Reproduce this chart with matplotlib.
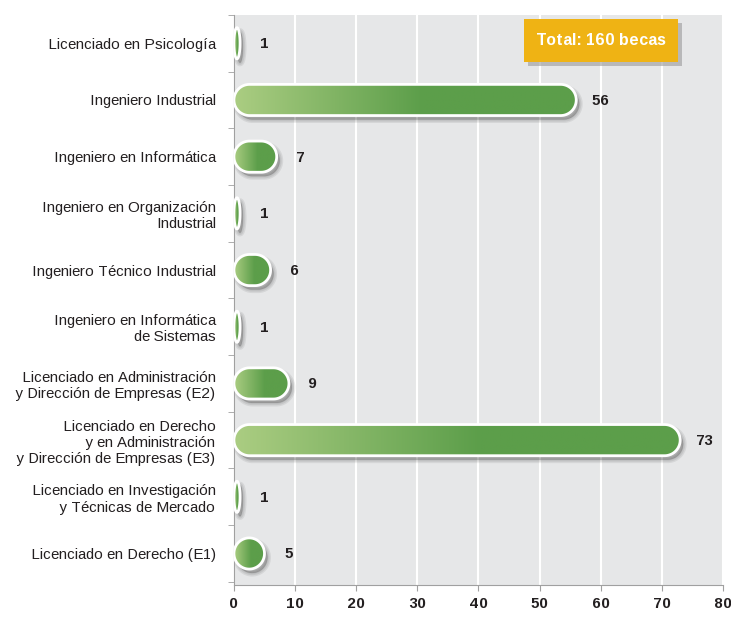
"""Becas por titulación - barras horizontales redondeadas con degradado"""

import numpy as np
import matplotlib.pyplot as plt
from matplotlib.patches import Polygon, Rectangle
from matplotlib.colors import LinearSegmentedColormap
import matplotlib.transforms as mtransforms

plt.rcParams['font.family'] = ['Liberation Sans', 'DejaVu Sans']
plt.rcParams['text.hinting_factor'] = 1

categories = ['Licenciado en Psicología', 'Ingeniero Industrial',
              'Ingeniero en Informática', 'Ingeniero en Organización\nIndustrial',
              'Ingeniero Técnico Industrial', 'Ingeniero en Informática\nde Sistemas',
              'Licenciado en Administración\ny Dirección de Empresas (E2)',
              'Licenciado en Derecho\ny en Administración\ny Dirección de Empresas (E3)',
              'Licenciado en Investigación\ny Técnicas de Mercado',
              'Licenciado en Derecho (E1)']
values = [1, 56, 7, 1, 6, 1, 9, 73, 1, 5]
x_ticks = [0, 10, 20, 30, 40, 50, 60, 70, 80]
total_text = 'Total: 160 becas'

TEXT = '#231f20'; BAR_H = 0.55
green = LinearSegmentedColormap.from_list('g', [(0, '#abcd82'), (0.55, '#5c9e4a'), (1, '#5c9e4a')])

fig = plt.figure(figsize=(7.31, 6.22), dpi=100)
ax = fig.add_axes([0.320, 0.060, 0.669, 0.916])
ax.set_xlim(0, 80); ax.set_ylim(len(values) - 0.45, -0.5)
ax.set_facecolor('#e6e7e8')
ax.grid(axis='x', color='white', lw=1.5); ax.set_axisbelow(True)

# pixel scale, so the bar ends are real half-circles
p0 = ax.transData.transform((0, 0)); p1 = ax.transData.transform((1, 1))
px_x, px_y = abs(p1[0] - p0[0]), abs(p1[1] - p0[1])
r_px = BAR_H * px_y / 2

def pill(x1, yc, h):
    rx = min(r_px / px_x, x1 / 2)
    t = np.linspace(-np.pi / 2, np.pi / 2, 40)
    right = np.column_stack([x1 - rx + rx * np.cos(t), yc + h / 2 * np.sin(t)])
    left = np.column_stack([rx - rx * np.cos(t), yc - h / 2 * np.sin(t)])
    return np.vstack([right, left])

shadow_tr = mtransforms.offset_copy(ax.transData, fig, x=3, y=-4, units='dots')
for i, v in enumerate(values):
    pts = pill(v, i, BAR_H)
    for lw in (5, 3, 1):
        ax.add_patch(Polygon(pts, closed=True, fc='black', ec='black', lw=lw,
                             alpha=0.07, transform=shadow_tr, zorder=2))
    clip = Polygon(pts, closed=True, fc='none', ec='none', transform=ax.transData)
    ax.add_patch(clip)
    img = ax.imshow(np.linspace(0, 1, 256)[None, :], cmap=green, aspect='auto',
                    extent=[0, v, i + BAR_H / 2, i - BAR_H / 2], zorder=3)
    img.set_clip_path(clip)
    ax.add_patch(Polygon(pts, closed=True, fc='none', ec='white', lw=2, zorder=4))
    ax.annotate(str(v), xy=(v, i), xytext=(24, -1), textcoords='offset pixels',
                ha='center', va='center', fontsize=11, fontweight='bold', color=TEXT)

ax.set_xlim(0, 80); ax.set_ylim(len(values) - 0.45, -0.5)

ax.set_xticks(x_ticks)
ax.set_xticklabels([str(t) for t in x_ticks], fontsize=11, fontweight='bold', color=TEXT)
ax.set_yticks(range(len(categories)))
ax.set_yticklabels(categories, fontsize=10.6, color=TEXT)
ax.set_yticks(np.arange(len(categories) + 1) - 0.5, minor=True)
ax.tick_params(axis='y', which='major', length=0, pad=13)
ax.tick_params(axis='y', which='minor', length=4, color='#a0a0a0')
ax.tick_params(axis='x', length=4, color='#a0a0a0', pad=5)
for s in ('top', 'right'): ax.spines[s].set_visible(False)
for s in ('left', 'bottom'): ax.spines[s].set_color('#a0a0a0')

# total box
off = mtransforms.offset_copy(ax.transAxes, fig, x=4, y=-4, units='dots')
ax.add_patch(Rectangle((0.593, 0.918), 0.315, 0.074, transform=off, fc='#9a9a9a',
                       alpha=0.6, zorder=5, clip_on=False))
ax.add_patch(Rectangle((0.593, 0.918), 0.315, 0.074, transform=ax.transAxes,
                       fc='#efb314', ec='none', zorder=6, clip_on=False))
ax.text(0.7505, 0.955, total_text, transform=ax.transAxes, ha='center', va='center',
        fontsize=11.3, fontweight='bold', color='white', zorder=7)

fig.savefig('out.png', dpi=100)
